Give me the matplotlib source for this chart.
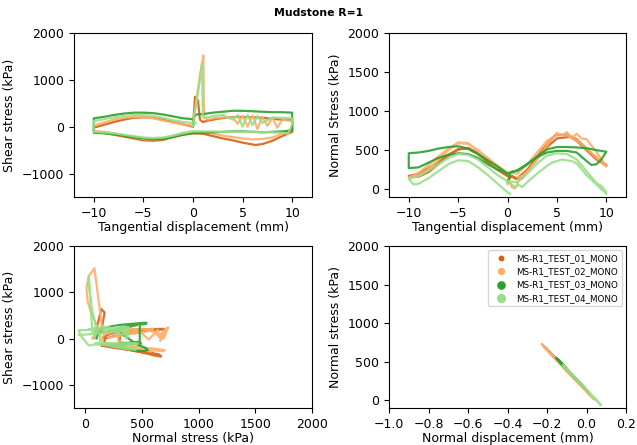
import numpy as np
import matplotlib
matplotlib.use("Agg")
import matplotlib.pyplot as plt
from matplotlib.lines import Line2D

# Cyclic direct shear tests on mudstone, R=1 (monotonic loading, CNS)
# u = tangential displacement (mm), tau = shear stress (kPa),
# sig = normal stress (kPa), v = normal displacement (mm)

labels = ['MS-R1_TEST_01_MONO', 'MS-R1_TEST_02_MONO',
          'MS-R1_TEST_03_MONO', 'MS-R1_TEST_04_MONO']
colors = ['#d95f0e', '#fdae6b', '#2ca02c', '#98df8a']
legend_sizes = [3.2, 4.2, 5.2, 5.6]

t01_u = [0, 0.2, 0.5, 0.7, 1, 1.5, 2.5, 3.5, 4.8, 6, 7, 8, 9, 10,
         10, 9, 8, 7, 6.3, 5, 4, 3, 2, 1, 0,
         -1, -2, -3, -4, -5, -6, -7, -8, -9, -10,
         -10, -9, -8, -7, -6, -5, -4, -3, -2, -1, 0]
t01_tau = [0, 640, 560, 150, 100, 130, 170, 200, 210, 200, 190, 170, 150, 140,
           -110, -200, -300, -370, -390, -340, -290, -250, -200, -150, -140,
           -170, -220, -280, -300, -290, -250, -210, -170, -130, -100,
           -20, 40, 100, 150, 190, 200, 190, 150, 100, 50, 0]
t01_sig = [80, 140, 170, 140, 130, 140, 330, 500, 690, 700, 640, 520, 400, 310,
           300, 380, 500, 620, 670, 650, 540, 400, 250, 140, 170,
           250, 350, 450, 520, 510, 440, 350, 270, 200, 170,
           170, 160, 220, 320, 430, 510, 530, 460, 350, 250, 170]
t01_v = [0.015, -0.007, -0.018, -0.007, -0.003, -0.007, -0.077, -0.140, -0.211,
         -0.214, -0.192, -0.148, -0.103, -0.070,
         -0.066, -0.096, -0.140, -0.185, -0.203, -0.196, -0.155, -0.103, -0.048,
         -0.007, -0.018,
         -0.048, -0.085, -0.122, -0.148, -0.144, -0.118, -0.085, -0.055, -0.029,
         -0.018,
         -0.018, -0.014, -0.036, -0.074, -0.114, -0.144, -0.151, -0.125, -0.085,
         -0.048, -0.018]

t02_u = [0, 0.1, 0.3, 0.5, 0.7, 0.9, 1.05, 1.1,
         1.5, 2, 3, 4, 4.5, 5, 5.5, 6, 6.5, 7, 7.5, 8, 8.5, 9, 10,
         10, 9, 8, 7, 6, 5, 4, 3, 2, 1, 0,
         -1, -2, -3, -4, -5, -6, -7, -8, -9, -10,
         -10, -9, -8, -7, -6, -5, -4, -3, -2, -1, 0]
t02_tau = [0, 200, 500, 800, 1100, 1350, 1520, 200,
           150, 180, 200, 200, 60, 230, 0, 240, -50, 210, 20, 190, -20, 150, 120,
           -50, -150, -230, -260, -270, -250, -220, -190, -150, -110, -100,
           -130, -190, -250, -280, -260, -220, -180, -140, -110, -90,
           30, 90, 150, 190, 210, 210, 180, 130, 90, 50, 20]
t02_sig = [60, 120, 60, 20, 10, 30, 80, 150,
           170, 230, 380, 560, 650, 720, 690, 730, 660, 710, 650, 640, 560, 480, 290,
           290, 400, 520, 630, 690, 700, 620, 470, 320, 200, 210,
           300, 400, 500, 580, 590, 520, 420, 310, 210, 150,
           150, 170, 260, 370, 500, 600, 590, 490, 380, 270, 200]
t02_v = [0.020, -0.002, 0.020, 0.035, 0.038, 0.031, 0.012, -0.014,
         -0.021, -0.043, -0.099, -0.165, -0.199, -0.225, -0.214, -0.228, -0.202,
         -0.221, -0.199, -0.195, -0.165, -0.136, -0.065,
         -0.065, -0.106, -0.151, -0.191, -0.214, -0.217, -0.188, -0.132, -0.077,
         -0.032, -0.036,
         -0.069, -0.106, -0.143, -0.173, -0.177, -0.151, -0.114, -0.073, -0.036,
         -0.014,
         -0.014, -0.021, -0.054, -0.095, -0.143, -0.180, -0.177, -0.139, -0.099,
         -0.058, -0.032]

t03_u = [0, 0.1, 0.3,
         1, 2, 3, 4, 5, 6, 7, 8, 9, 10,
         10, 9.5, 9, 8.5, 8, 7, 6, 5, 4, 3, 2, 1, 0,
         -1, -2, -3, -4, -5, -6, -7, -8, -9, -10,
         -10, -9, -8, -7, -6, -5, -4, -3, -2, -1, 0]
t03_tau = [0, 200, 260,
           270, 300, 320, 340, 340, 330, 320, 310, 310, 300,
           -70, -90, -100, -105, -110, -120, -110, -100, -100, -110, -120, -130, -140,
           -170, -220, -260, -270, -250, -220, -190, -160, -140, -130,
           180, 210, 250, 280, 300, 300, 290, 260, 220, 180, 160]
t03_sig = [100, 120, 220,
           240, 320, 420, 510, 540, 540, 535, 525, 500, 480,
           480, 380, 320, 310, 360, 470, 490, 490, 470, 410, 320, 240, 200,
           290, 370, 450, 520, 550, 540, 520, 490, 470, 460,
           270, 280, 340, 400, 440, 460, 450, 400, 320, 250, 200]
t03_v = [0.013, 0.006, -0.031,
         -0.039, -0.069, -0.106, -0.139, -0.150, -0.150, -0.148, -0.144, -0.135,
         -0.128,
         -0.128, -0.091, -0.069, -0.065, -0.083, -0.124, -0.131, -0.131, -0.124,
         -0.102, -0.069, -0.039, -0.024,
         -0.057, -0.087, -0.117, -0.143, -0.154, -0.150, -0.143, -0.131, -0.124,
         -0.120,
         -0.050, -0.054, -0.076, -0.098, -0.113, -0.120, -0.117, -0.098, -0.069,
         -0.043, -0.024]

t04_u = [0, 0.1, 0.4, 0.7, 0.9, 1.0,
         1.5, 2, 3, 4, 4.5, 5, 5.5, 6, 6.5, 7, 8, 9, 10,
         10, 9.6, 9, 8, 7, 6, 5, 4, 3, 2, 1, 0,
         -1, -2, -3, -4, -5, -6, -7, -8, -9, -10,
         -10, -9.5, -9, -8, -7, -6, -5, -4, -3, -2, -1, 0, 0.3]
t04_tau = [0, 200, 600, 1000, 1340, 200,
           200, 230, 250, 150, 250, 0, 250, 30, 230, 80, 200, 190, 180,
           60, -150, -130, -120, -110, -110, -110, -110, -110, -100, -100, -100,
           -140, -190, -230, -240, -230, -200, -170, -140, -120, -110,
           120, 140, 160, 200, 230, 250, 250, 230, 190, 140, 100, 80, 80]
t04_sig = [80, 100, 60, 40, 30, 60,
           30, 90, 200, 300, 340, 360, 380, 370, 360, 330, 180, 60, -60,
           -40, 30, 80, 230, 380, 450, 460, 430, 330, 200, 90, 100,
           180, 280, 380, 440, 450, 400, 320, 240, 170, 130,
           130, 60, 70, 140, 230, 320, 370, 360, 280, 180, 70, -40, -60]
t04_v = [0.020, 0.013, 0.028, 0.035, 0.039, 0.028,
         0.039, 0.017, -0.024, -0.061, -0.076, -0.083, -0.091, -0.087, -0.083,
         -0.072, -0.017, 0.028, 0.072,
         0.065, 0.039, 0.020, -0.035, -0.091, -0.117, -0.120, -0.109, -0.072,
         -0.024, 0.017, 0.013,
         -0.017, -0.054, -0.091, -0.113, -0.117, -0.098, -0.069, -0.039, -0.013,
         0.002,
         0.002, 0.028, 0.024, -0.002, -0.035, -0.069, -0.087, -0.083, -0.054,
         -0.017, 0.024, 0.065, 0.072]

tests = [
    (t01_u, t01_tau, t01_sig, t01_v),
    (t02_u, t02_tau, t02_sig, t02_v),
    (t03_u, t03_tau, t03_sig, t03_v),
    (t04_u, t04_tau, t04_sig, t04_v),
]

plt.rcParams['font.size'] = 9

fig = plt.figure(figsize=(6.37, 4.45), dpi=100)
ax1 = fig.add_axes([0.1162, 0.5573, 0.3736, 0.3685])
ax2 = fig.add_axes([0.6107, 0.5573, 0.3721, 0.3685])
ax3 = fig.add_axes([0.1162, 0.0831, 0.3736, 0.3641])
ax4 = fig.add_axes([0.6107, 0.0831, 0.3721, 0.3641])

line_kw = dict(lw=1.6, alpha=0.9, solid_joinstyle='round', solid_capstyle='round')

for (u, tau, sig, v), c in zip(tests, colors):
    u, tau, sig, v = map(np.asarray, (u, tau, sig, v))
    ax1.plot(u, tau, color=c, **line_kw)
    ax2.plot(u, sig, color=c, **line_kw)
    ax3.plot(sig, tau, color=c, **line_kw)
    ax4.plot(v, sig, color=c, **line_kw)

ax1.set_xlim(-12, 12)
ax1.set_ylim(-1500, 2000)
ax1.set_yticks([-1000, 0, 1000, 2000])
ax1.set_xlabel('Tangential displacement (mm)', labelpad=1)
ax1.set_ylabel('Shear stress (kPa)')

ax2.set_xlim(-12, 12)
ax2.set_ylim(-100, 2000)
ax2.set_yticks([0, 500, 1000, 1500, 2000])
ax2.set_xlabel('Tangential displacement (mm)', labelpad=1)
ax2.set_ylabel('Normal Stress (kPa)')

ax3.set_xlim(-100, 2000)
ax3.set_ylim(-1500, 2000)
ax3.set_xticks([0, 500, 1000, 1500, 2000])
ax3.set_yticks([-1000, 0, 1000, 2000])
ax3.set_xlabel('Normal stress (kPa)', labelpad=1)
ax3.set_ylabel('Shear stress (kPa)')

ax4.set_xlim(-1.0, 0.2)
ax4.set_ylim(-100, 2000)
ax4.set_xticks([-1.0, -0.8, -0.6, -0.4, -0.2, 0.0, 0.2])
ax4.set_yticks([0, 500, 1000, 1500, 2000])
ax4.set_xlabel('Normal displacement (mm)', labelpad=1)
ax4.set_ylabel('Normal stress (kPa)')

handles = [Line2D([], [], ls='', marker='o', color=c, markersize=ms)
           for c, ms in zip(colors, legend_sizes)]
ax4.legend(handles, labels, loc='upper right', fontsize=6.3, handletextpad=0.8)

fig.text(0.5, 0.971, 'Mudstone R=1', ha='center', va='center',
         fontsize=7.8, fontweight='bold')

fig.savefig('out.png', dpi=100)
